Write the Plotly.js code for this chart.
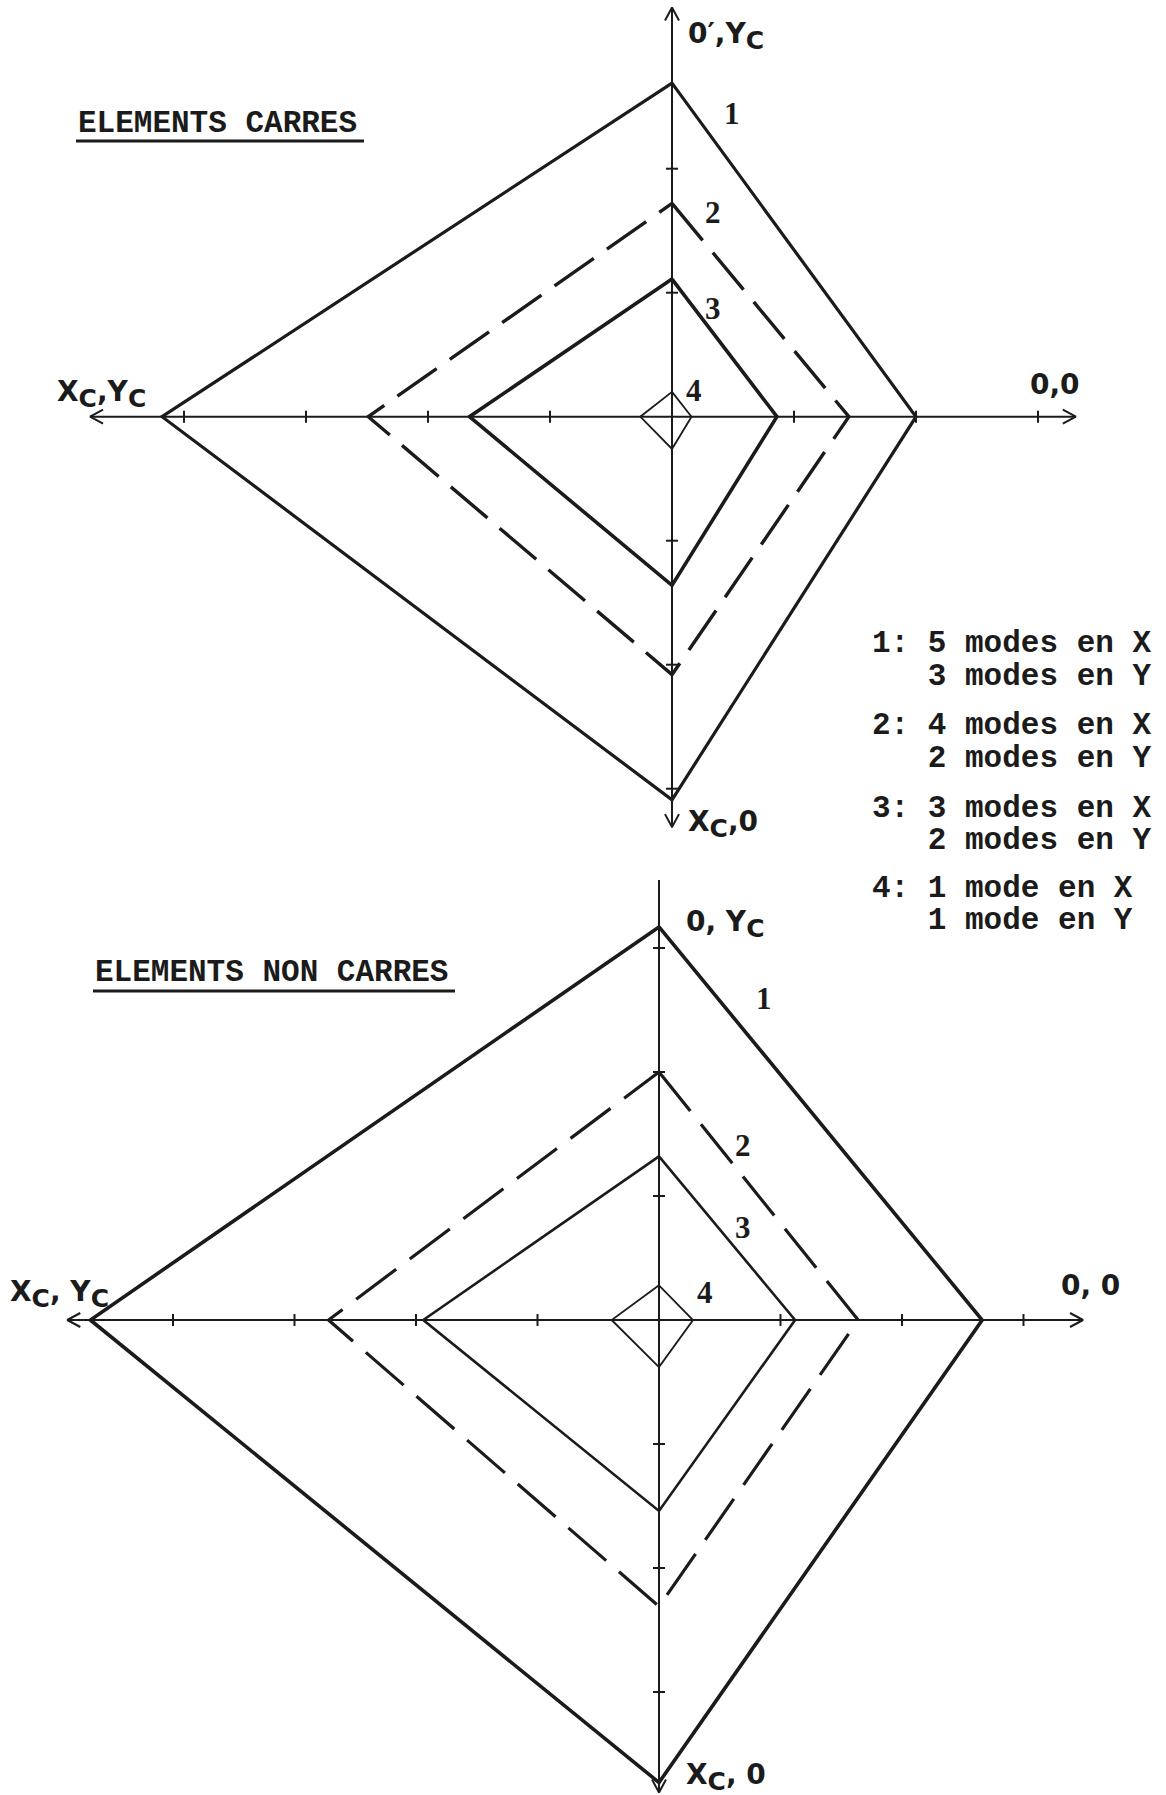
<!DOCTYPE html>
<html>
<head>
<meta charset="utf-8">
<script src="https://cdn.plot.ly/plotly-3.0.1.min.js"></script>
<style>
  html, body { margin: 0; padding: 0; background: #fff; }
  #graphe { width: 1166px; height: 1795px; }
</style>
</head>
<body>
<div id="graphe"></div>
<script>
const W = 1166, H = 1795;
const ink = '#1b1b1b';

// numeros des courbes
const polygones = ['1', '2', '3', '4'];

// elements carres : sommets lus sur chaque demi-axe (en graduations)
const carresHaut   = [2.69, 1.72, 1.11, 0.20];
const carresDroite = [2.00, 1.45, 0.86, 0.16];
const carresBas    = [3.09, 2.08, 1.36, 0.26];
const carresGauche = [4.18, 2.49, 1.66, 0.26];

// elements non carres
const nonCarresHaut   = [3.17, 2.00, 1.32, 0.28];
const nonCarresDroite = [2.66, 1.64, 1.12, 0.28];
const nonCarresBas    = [3.73, 2.31, 1.54, 0.38];
const nonCarresGauche = [4.68, 2.72, 1.94, 0.39];

// longueur des axes : gauche, droite, bas, haut
const axesCarres    = [4.77, 3.31, 3.31, 3.30];
const axesNonCarres = [4.87, 3.49, 3.81, 3.80];

// graduations
const gradX = [-4, -3, -2, -1, 1, 2, 3];
const gradYCarres = [-3, -2, -1, 1, 2];
const gradYNonCarres = [-3, -2, -1, 1, 2, 3];

// legende
const modesX = [5, 4, 3, 1];
const modesY = [3, 2, 2, 1];

// echelles (pixels par graduation) et centres des deux schemas
const panneaux = [
  {top: 0,   bot: 880, cx: 672, cy: 416.7, ux: 122,   uy: 124},
  {top: 880, bot: H,   cx: 659, cy: 1320,  ux: 121.5, uy: 124}
];

const styleCarres = [
  {color: ink, width: 3.2},
  {color: ink, width: 3.4, dash: '48px,16px'},
  {color: ink, width: 3.6},
  {color: ink, width: 1.8}
];
const styleNonCarres = [
  {color: ink, width: 3.6},
  {color: ink, width: 3.2, dash: '50px,17px'},
  {color: ink, width: 2.6},
  {color: ink, width: 1.8}
];

let traces = [];

function polygone(h, d, b, g, xa, ya, style, nom) {
  return {
    x: [0, d, 0, -g, 0], y: [h, 0, -b, 0, h],
    xaxis: xa, yaxis: ya, mode: 'lines', name: nom,
    line: style, hoverinfo: 'skip', showlegend: false
  };
}

function axes(ext, gx, gy, p, xa, ya) {
  let [g, d, b, h] = ext;
  let hx = 13 / p.ux, hy = 13 / p.uy, wx = 7 / p.ux, wy = 7 / p.uy;
  let x = [-g, d, null, 0, 0, null,
    d - hx, d, d - hx, null,
    -g + hx, -g, -g + hx, null,
    -wx, 0, wx, null,
    -wx, 0, wx, null];
  let y = [0, 0, null, -b, h, null,
    wy, 0, -wy, null,
    wy, 0, -wy, null,
    h - hy, h, h - hy, null,
    -b + hy, -b, -b + hy, null];
  let tx = 6 / p.ux, ty = 6 / p.uy;
  gx.forEach(t => { x.push(t, t, null); y.push(-ty, ty, null); });
  gy.forEach(t => { x.push(-tx, tx, null); y.push(t, t, null); });
  return {x: x, y: y, xaxis: xa, yaxis: ya, mode: 'lines',
    line: {color: ink, width: 2}, hoverinfo: 'skip', showlegend: false};
}

traces.push(axes(axesCarres, gradX, gradYCarres, panneaux[0], 'x', 'y'));
traces.push(axes(axesNonCarres, gradX, gradYNonCarres, panneaux[1], 'x2', 'y2'));
for (let i = 0; i < polygones.length; i++) {
  traces.push(polygone(carresHaut[i], carresDroite[i], carresBas[i], carresGauche[i], 'x', 'y', styleCarres[i], polygones[i]));
  traces.push(polygone(nonCarresHaut[i], nonCarresDroite[i], nonCarresBas[i], nonCarresGauche[i], 'x2', 'y2', styleNonCarres[i], polygones[i]));
}

function axeX(p) {
  return {domain: [0, 1], range: [-p.cx / p.ux, (W - p.cx) / p.ux], visible: false, fixedrange: true};
}
function axeY(p) {
  return {domain: [1 - p.bot / H, 1 - p.top / H],
    range: [-(p.bot - p.cy) / p.uy, (p.cy - p.top) / p.uy], visible: false, fixedrange: true};
}

function txt(text, px, py, font, xa, ya) {
  return {text: text, x: px / W, y: 1 - py / H, xref: 'paper', yref: 'paper',
    showarrow: false, xanchor: xa || 'center', yanchor: ya || 'middle', font: font};
}

const C = '<sub><span style="font-size:25px">C</span></sub>';
const fLab = {family: 'DejaVu Sans', size: 28, color: ink, weight: 'bold'};
const fNum = {family: 'Liberation Serif', size: 31, color: ink, weight: 'bold'};
const fTitre = {family: 'Liberation Mono', size: 31, color: ink, weight: 'bold'};
const fLeg = {family: 'Liberation Mono', size: 31, color: ink, weight: 'bold'};

let notes = [
  txt('ELEMENTS CARRES', 76, 123, fTitre, 'left'),
  txt('ELEMENTS NON CARRES', 93, 972, fTitre, 'left'),

  txt("0\u2032,Y" + C, 686, 36, fLab, 'left'),
  txt('0,0', 1055, 385, fLab),
  txt('X' + C + ',Y' + C, 55, 394, fLab, 'left'),
  txt('X' + C + ',0', 686, 824, fLab, 'left'),

  txt('0, Y' + C, 684, 924, fLab, 'left'),
  txt('0, 0', 1090, 1285, fLab),
  txt('X' + C + ', Y' + C, 8, 1294, fLab, 'left'),
  txt('X' + C + ', 0', 684, 1777, fLab, 'left')
];

const numCarres = [[732, 113], [713, 212], [713, 308], [694, 390]];
const numNonCarres = [[764, 998], [743, 1145], [743, 1227], [705, 1292]];
polygones.forEach((n, i) => {
  notes.push(txt(n, numCarres[i][0], numCarres[i][1], fNum));
  notes.push(txt(n, numNonCarres[i][0], numNonCarres[i][1], fNum));
});

const legY = [[643, 676], [725, 758], [808, 840], [888, 920]];
polygones.forEach((n, i) => {
  let motX = modesX[i] > 1 ? 'modes' : 'mode';
  let motY = modesY[i] > 1 ? 'modes' : 'mode';
  notes.push(txt(n + ': ' + modesX[i] + ' ' + motX + ' en X', 870, legY[i][0], fLeg, 'left'));
  notes.push(txt('\u00a0\u00a0\u00a0' + modesY[i] + ' ' + motY + ' en Y', 870, legY[i][1], fLeg, 'left'));
});

const soulignes = [[76, 364, 141], [93, 455, 991]].map(s => ({
  type: 'line', xref: 'paper', yref: 'paper',
  x0: s[0] / W, x1: s[1] / W, y0: 1 - s[2] / H, y1: 1 - s[2] / H,
  line: {color: ink, width: 3}
}));

const layout = {
  width: W, height: H,
  margin: {l: 0, r: 0, t: 0, b: 0},
  paper_bgcolor: '#ffffff', plot_bgcolor: '#ffffff',
  showlegend: false,
  xaxis: axeX(panneaux[0]), yaxis: axeY(panneaux[0]),
  xaxis2: Object.assign(axeX(panneaux[1]), {anchor: 'y2'}),
  yaxis2: Object.assign(axeY(panneaux[1]), {anchor: 'x2'}),
  annotations: notes,
  shapes: soulignes
};

Plotly.newPlot('graphe', traces, layout, {staticPlot: true, displayModeBar: false});
</script>
</body>
</html>
